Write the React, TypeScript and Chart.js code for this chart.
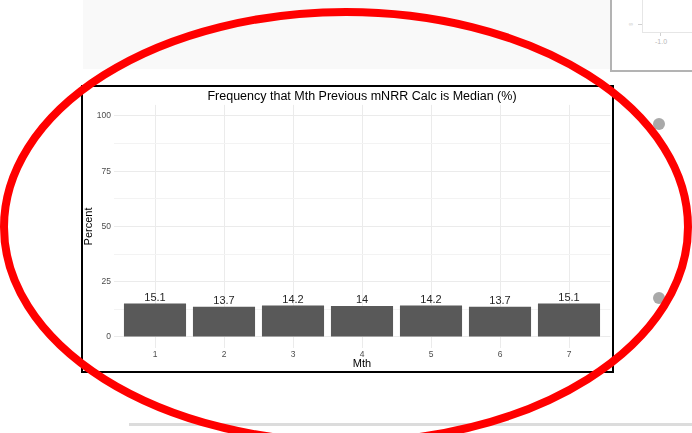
import React, { useEffect, useRef } from 'react';
import { Chart, registerables } from 'chart.js';

Chart.register(...registerables);

const months = [1, 2, 3, 4, 5, 6, 7];
const percents = [15.1, 13.7, 14.2, 14, 14.2, 13.7, 15.1];
const valueLabels = ['15.1', '13.7', '14.2', '14', '14.2', '13.7', '15.1'];
const yMajorTicks = [0, 25, 50, 75, 100];
const yMinorTicks = [12.5, 37.5, 62.5, 87.5];
const chartTitle = 'Frequency that Mth Previous mNRR Calc is Median (%)';
const xTitle = 'Mth';
const yTitle = 'Percent';

const FONT = '"Liberation Sans", Arial, Helvetica, sans-serif';

const annotPlugin = {
  id: 'annot',
  afterDatasetsDraw(chart: any) {
    const { ctx, chartArea } = chart;
    const meta = chart.getDatasetMeta(0);
    ctx.save();
    ctx.textAlign = 'center';
    ctx.textBaseline = 'middle';
    ctx.fillStyle = '#262626';
    ctx.font = `11px ${FONT}`;
    meta.data.forEach((bar: any, i: number) => {
      ctx.fillText(valueLabels[i], bar.x, bar.y - 6);
    });
    const cx = (chartArea.left + chartArea.right) / 2;
    ctx.fillStyle = '#000';
    ctx.font = `12.5px ${FONT}`;
    ctx.fillText(chartTitle, cx, chartArea.top - 8);
    ctx.font = `11px ${FONT}`;
    ctx.fillText(xTitle, cx, chartArea.bottom + 16.3);
    ctx.translate(chartArea.left - 24.6, (chartArea.top + chartArea.bottom) / 2);
    ctx.rotate(-Math.PI / 2);
    ctx.fillText(yTitle, 0, 0);
    ctx.restore();
  },
};

function BarChart() {
  const ref = useRef<HTMLCanvasElement>(null);
  useEffect(() => {
    if (!ref.current) return;
    const chart = new Chart(ref.current, {
      type: 'bar',
      data: {
        datasets: [
          {
            data: months.map((m, i) => ({ x: m, y: percents[i] })),
            backgroundColor: '#595959',
            borderWidth: 0,
            barPercentage: 0.9,
            categoryPercentage: 1,
          },
        ],
      },
      options: {
        responsive: false,
        animation: false,
        layout: { padding: { top: 17.9, right: 1.6, left: 0, bottom: 0 } },
        plugins: {
          legend: { display: false },
          tooltip: { enabled: false },
          title: { display: false },
        },
        scales: {
          x: {
            type: 'linear',
            min: 0.4,
            max: 7.6,
            offset: false,
            afterBuildTicks: (scale: any) => {
              scale.ticks = months.map((m) => ({ value: m }));
            },
            afterFit: (scale: any) => {
              scale.height = 23;
            },
            ticks: {
              callback: (v: any) => String(v),
              color: '#4d4d4d',
              font: { size: 8.5, family: FONT },
              padding: 1.5,
              maxRotation: 0,
              autoSkip: false,
            },
            grid: { color: '#ebebeb', lineWidth: 1, drawTicks: false, offset: false },
            border: { display: false },
          },
          y: {
            type: 'linear',
            min: -5,
            max: 105,
            afterBuildTicks: (scale: any) => {
              scale.ticks = [...yMajorTicks, ...yMinorTicks]
                .sort((a, b) => a - b)
                .map((v) => ({ value: v }));
            },
            afterFit: (scale: any) => {
              scale.width = 30.6;
            },
            ticks: {
              callback: (v: any) => (yMajorTicks.includes(v) ? String(v) : ''),
              color: '#4d4d4d',
              font: { size: 8.5, family: FONT },
              padding: 2.6,
              autoSkip: false,
            },
            grid: {
              color: (c: any) => (yMajorTicks.includes(c.tick?.value) ? '#ebebeb' : '#f3f3f3'),
              lineWidth: 1,
              drawTicks: false,
            },
            border: { display: false },
          },
        },
      },
      plugins: [annotPlugin],
    } as any);
    return () => chart.destroy();
  }, []);
  return <canvas ref={ref} width={529} height={284} style={{ display: 'block' }} />;
}

export default function App() {
  const abs = (s: React.CSSProperties): React.CSSProperties => ({ position: 'absolute', ...s });
  return (
    <div
      style={{
        position: 'fixed',
        left: 0,
        top: 0,
        width: 692,
        height: 433,
        background: '#fff',
        overflow: 'hidden',
        fontFamily: FONT,
      }}
    >
      <div style={abs({ left: 83, top: 0, width: 527, height: 69, background: '#f9f9f9' })} />
      <div
        style={abs({
          left: 610,
          top: -10,
          width: 120,
          height: 82,
          boxSizing: 'border-box',
          border: '2px solid #b3b3b3',
          background: '#fff',
        })}
      />
      <div style={abs({ left: 642, top: 0, width: 1, height: 33, background: '#e6e6e6' })} />
      <div style={abs({ left: 642, top: 32, width: 50, height: 1, background: '#e6e6e6' })} />
      <div style={abs({ left: 660, top: 33, width: 1, height: 3, background: '#d0d0d0' })} />
      <div style={abs({ left: 638, top: 24, width: 4, height: 1, background: '#d0d0d0' })} />
      <div style={abs({ left: 650, top: 37, width: 22, textAlign: 'center', fontSize: 7, color: '#b8b8b8', lineHeight: '10px' })}>-1.0</div>
      <div style={abs({ left: 626, top: 19, width: 10, textAlign: 'center', fontSize: 6, color: '#c4c4c4', lineHeight: '10px' })}>∞</div>

      <div
        style={abs({
          left: 81,
          top: 85,
          width: 533,
          height: 288,
          boxSizing: 'border-box',
          border: '2px solid #000',
          background: '#fff',
        })}
      >
        <BarChart />
      </div>

      <div style={abs({ left: 653, top: 118, width: 12, height: 12, borderRadius: '50%', background: '#a9a9a9' })} />
      <div style={abs({ left: 653, top: 292, width: 12, height: 12, borderRadius: '50%', background: '#a9a9a9' })} />
      <div style={abs({ left: 129, top: 423, width: 563, height: 3, background: '#dcdcdc' })} />

      <svg width={692} height={433} style={abs({ left: 0, top: 0, pointerEvents: 'none' })}>
        <ellipse cx={346} cy={227} rx={342} ry={215} fill="none" stroke="#ff0000" strokeWidth={8} />
      </svg>
    </div>
  );
}
